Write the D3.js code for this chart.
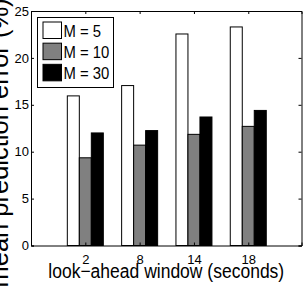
<!DOCTYPE html>
<html>
<head>
<meta charset="utf-8">
<script src="https://cdn.jsdelivr.net/npm/d3@7"></script>
<style>
  body { margin: 0; background: #fff; }
  svg { display: block; font-family: "Liberation Sans", Arial, sans-serif; }
</style>
</head>
<body>
<div id="chart"></div>
<script>
// data
const categories = ["2", "8", "14", "18"];
const seriesNames = ["M = 5", "M = 10", "M = 30"];
const m5 = [15.95, 17.05, 22.55, 23.3];
const m10 = [9.35, 10.7, 11.85, 12.7];
const m30 = [12.0, 12.25, 13.7, 14.4];
const yTicks = [0, 5, 10, 15, 20, 25];

const colors = ["#ffffff", "#808080", "#000000"];
const allSeries = [m5, m10, m30];

const width = 306, height = 286;
const plotL = 31, plotR = 301.5, plotT = 11, plotB = 245.5;

const svg = d3.select("#chart").append("svg")
  .attr("width", width)
  .attr("height", height);

// squeeze a text a bit so it looks like the narrow face of the original
function narrow(sel, k) {
  sel.each(function() {
    const w = this.getComputedTextLength();
    d3.select(this).attr("textLength", w * k).attr("lengthAdjust", "spacingAndGlyphs");
  });
}

// scales
const x = d3.scaleLinear().domain([0, 4.98]).range([plotL, plotR]);
const inner = d3.scaleBand().domain(d3.range(seriesNames.length)).range([-18, 18]);
const y = d3.scaleLinear().domain([0, 25]).range([plotB, plotT]);

// bars
allSeries.forEach((vals, s) => {
  svg.selectAll(".bar" + s)
    .data(vals)
    .enter()
    .append("rect")
    .attr("x", (d, i) => x(i + 1) + inner(s))
    .attr("y", d => y(d))
    .attr("width", inner.bandwidth())
    .attr("height", d => y(0) - y(d))
    .attr("fill", colors[s])
    .attr("stroke", "#000")
    .attr("stroke-width", 1);
});

// axes box with inward ticks
const tl = 3;
const xTickPos = categories.map((c, i) => i + 1);

svg.append("g")
  .attr("transform", `translate(${plotL},0)`)
  .call(d3.axisLeft(y).tickValues(yTicks).tickSize(-tl).tickPadding(2))
  .call(g => g.selectAll("text").attr("font-size", 13).attr("fill", "#000"));

svg.append("g")
  .attr("transform", `translate(${plotR},0)`)
  .call(d3.axisRight(y).tickValues(yTicks).tickSize(-tl).tickFormat(""));

svg.append("g")
  .attr("transform", `translate(0,${plotB})`)
  .call(d3.axisBottom(x).tickValues(xTickPos).tickSize(-tl).tickPadding(9)
    .tickFormat((d, i) => categories[i]))
  .call(g => g.selectAll("text").attr("font-size", 13).attr("fill", "#000"));

svg.append("g")
  .attr("transform", `translate(0,${plotT})`)
  .call(d3.axisTop(x).tickValues(xTickPos).tickSize(-tl).tickFormat(""));

svg.selectAll("g").attr("font-family", null);
svg.selectAll(".domain").attr("stroke", "#000");
svg.selectAll(".tick line").attr("stroke", "#000");

// axis labels
svg.append("text")
  .attr("x", (plotL + plotR) / 2)
  .attr("y", 277.5)
  .attr("text-anchor", "middle")
  .attr("font-size", 20)
  .text("look\u2212ahead window (seconds)")
  .call(narrow, 0.875);

svg.append("text")
  .attr("transform", "translate(7.5,143) rotate(-90)")
  .attr("text-anchor", "middle")
  .attr("font-size", 25.5)
  .text("mean prediction error (%)");

// legend
const lg = svg.append("g");
lg.append("rect")
  .attr("x", 37.5).attr("y", 17.5)
  .attr("width", 76).attr("height", 70)
  .attr("fill", "#fff").attr("stroke", "#000");

const row = d3.scaleBand().domain(d3.range(seriesNames.length)).range([20.5, 84]);
seriesNames.forEach((name, s) => {
  lg.append("rect")
    .attr("x", 43).attr("y", row(s) + 1.5)
    .attr("width", 18.5).attr("height", 16.5)
    .attr("fill", colors[s]).attr("stroke", "#000");
  lg.append("text")
    .attr("x", 63.5)
    .attr("y", row(s) + row.bandwidth() / 2 + 6)
    .attr("font-size", 16.5)
    .text(name)
    .call(narrow, 0.9);
});
</script>
</body>
</html>
